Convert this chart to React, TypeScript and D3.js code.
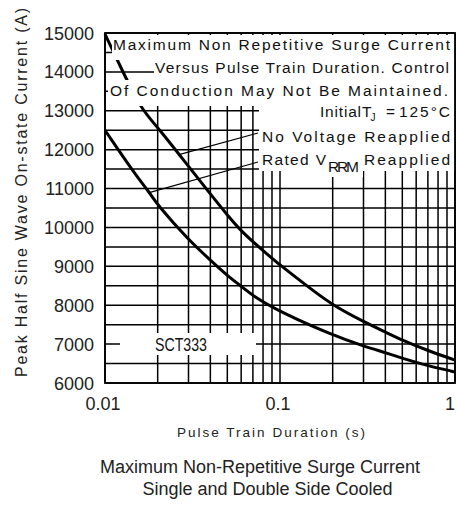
import React from 'react';
import * as d3 from 'd3';

// Pulse train duration (s) vs peak half sine wave on-state current (A)
const noVoltageDuration = [0.01, 0.013, 0.0162, 0.02, 0.03, 0.04, 0.05, 0.06, 0.08, 0.1, 0.15, 0.2, 0.3, 0.4, 0.5, 0.7, 1];
const noVoltageCurrent = [14970, 13890, 13030, 12580, 11570, 10860, 10320, 9900, 9405, 9030, 8420, 8000, 7577, 7310, 7100, 6830, 6590];

const ratedVrrmDuration = [0.01, 0.015, 0.0181, 0.02, 0.03, 0.04, 0.05, 0.06, 0.07, 0.1, 0.2, 0.3, 0.4, 0.5, 0.7, 1];
const ratedVrrmCurrent = [12500, 11340, 10880, 10570, 9680, 9160, 8760, 8490, 8240, 7830, 7230, 6950, 6780, 6635, 6440, 6285];

const durationTicks = [0.01, 0.1, 1];
const durationTickLabels = ['0.01', '0.1', '1'];
const currentTicks = [6000, 7000, 8000, 9000, 10000, 11000, 12000, 13000, 14000, 15000];

// Points on each curve where the legend leader lines start
const noVoltageAnchor = [0.0268, 11880];
const ratedVrrmAnchor = [0.0181, 10900];

const W = 456;
const H = 505;
const left = 105;
const right = 455;
const top = 33;
const bottom = 383;

const font = '"Liberation Sans", Arial, sans-serif';

export default function App() {
  const x = d3.scaleLog().domain([0.01, 1]).range([left, right]);
  const y = d3.scaleLinear().domain([6000, 15000]).range([bottom, top]);

  const vGrid = x.ticks();
  const hGrid = y.ticks(18);

  const line = d3
    .line<[number, number]>()
    .x((d) => x(d[0]))
    .y((d) => y(d[1]))
    .curve(d3.curveBasis);

  const upper = line(noVoltageDuration.map((t, i) => [t, noVoltageCurrent[i]] as [number, number]));
  const lower = line(ratedVrrmDuration.map((t, i) => [t, ratedVrrmCurrent[i]] as [number, number]));

  const txt = { fontFamily: font, fill: '#111' } as const;

  return (
    <svg
      width={W}
      height={H}
      viewBox={`0 0 ${W} ${H}`}
      style={{ position: 'absolute', left: 0, top: 0, background: '#fff' }}
    >
      <rect x={0} y={0} width={W} height={H} fill="#fff" />

      {/* grid */}
      <g stroke="#000" strokeWidth={1.5}>
        {hGrid.map((v) => (
          <line key={'h' + v} x1={left} x2={right} y1={y(v)} y2={y(v)} />
        ))}
        {vGrid.map((v) => (
          <line key={'v' + v} x1={x(v)} x2={x(v)} y1={top} y2={bottom} />
        ))}
      </g>

      {/* curves */}
      <path d={upper ?? ''} fill="none" stroke="#000" strokeWidth={3} strokeLinejoin="round" />
      <path d={lower ?? ''} fill="none" stroke="#000" strokeWidth={3} strokeLinejoin="round" />

      {/* leader lines */}
      <line x1={x(noVoltageAnchor[0])} y1={y(noVoltageAnchor[1])} x2={258} y2={133} stroke="#000" strokeWidth={1.2} />
      <line x1={x(ratedVrrmAnchor[0])} y1={y(ratedVrrmAnchor[1])} x2={258} y2={162} stroke="#000" strokeWidth={1.2} />

      {/* white backgrounds behind notes */}
      <g fill="#fff">
        <rect x={112} y={35} width={right - 112} height={25} />
        <rect x={154} y={60} width={right - 154} height={20} />
        <rect x={108} y={80} width={right - 108} height={26} />
        <rect x={259} y={100} width={right - 259} height={71} />
        <rect x={325} y={170} width={38} height={7} />
        <rect x={120} y={333} width={136} height={22} />
      </g>

      {/* frame */}
      <rect x={left} y={top} width={right - left} height={bottom - top} fill="none" stroke="#000" strokeWidth={1.8} />

      {/* notes */}
      <g style={txt} fontSize={15.5}>
        <text x={113} y={50} textLength={337} lengthAdjust="spacing">Maximum Non Repetitive Surge Current</text>
        <text x={155} y={73} textLength={294} lengthAdjust="spacing">Versus Pulse Train Duration. Control</text>
        <text x={110} y={95.5} textLength={338} lengthAdjust="spacing">Of Conduction May Not Be Maintained.</text>
        <text x={320} y={117} textLength={41} lengthAdjust="spacing">Initial</text>
        <text x={362} y={117}>T</text>
        <text x={370.5} y={121} fontSize={10}>J</text>
        <text x={386} y={117}>=</text>
        <text x={399} y={117} textLength={51} lengthAdjust="spacing">125°C</text>
        <text x={262} y={141.5} textLength={188} lengthAdjust="spacing">No Voltage Reapplied</text>
        <text x={262} y={165} textLength={64} lengthAdjust="spacing">Rated V</text>
        <text x={328} y={172} textLength={31} lengthAdjust="spacing">RRM</text>
        <text x={364} y={165} textLength={86} lengthAdjust="spacing">Reapplied</text>
        <text x={155} y={350.5} fontSize={18} textLength={52} lengthAdjust="spacingAndGlyphs">SCT333</text>
      </g>

      {/* tick labels */}
      <g style={{ fontFamily: font, fill: '#222' }} fontSize={18}>
        {currentTicks.map((v) => (
          <text key={'yl' + v} x={94} y={y(v) + 6.5} textAnchor="end">
            {v}
          </text>
        ))}
        {durationTicks.map((v, i) => (
          <text key={'xl' + v} x={Math.min(x(v) - 2, 450)} y={410} textAnchor="middle">
            {durationTickLabels[i]}
          </text>
        ))}
      </g>

      {/* axis titles */}
      <text
        transform="translate(26.5,377) rotate(-90)"
        x={0}
        y={0}
        fontSize={16}
        textLength={369}
        lengthAdjust="spacing"
        style={{ fontFamily: font, fill: '#222' }}
      >
        Peak Half Sine Wave On-state Current (A)
      </text>
      <text
        x={177}
        y={437}
        fontSize={13.5}
        textLength={188}
        lengthAdjust="spacing"
        style={{ fontFamily: font, fill: '#222' }}
      >
        Pulse Train Duration (s)
      </text>

      {/* caption */}
      <g style={{ fontFamily: font, fill: '#222' }} fontSize={18} textAnchor="middle">
        <text x={260} y={473}>Maximum Non-Repetitive Surge Current</text>
        <text x={267.5} y={494.5}>Single and Double Side Cooled</text>
      </g>
    </svg>
  );
}
